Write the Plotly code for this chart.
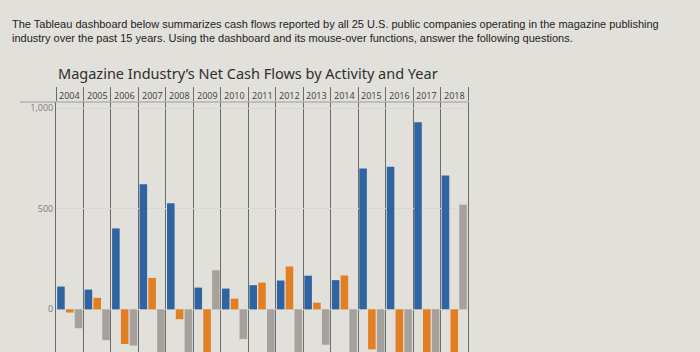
import plotly.graph_objects as go

years = ["2004", "2005", "2006", "2007", "2008", "2009", "2010", "2011",
         "2012", "2013", "2014", "2015", "2016", "2017", "2018"]
operating = [113, 98, 402, 622, 527, 108, 103, 120, 143, 167, 145, 700, 708, 930, 665]
investing = [-16, 57, -172, 156, -49, -280, 53, 133, 213, 33, 168, -199, -310, -350, -300]
financing = [-94, -153, -180, -290, -420, 194, -148, -300, -330, -176, -220, -420, -400, -560, 520]

tick_vals = [0, 500, 1000]
tick_text = ["0", "500", "1,000"]

BG = "#e2e0da"
LINE = "#6b6b6b"

fig = go.Figure()
fig.add_trace(go.Bar(x=years, y=operating, name="Operating", marker_color="#2f63a2", marker_line_width=0))
fig.add_trace(go.Bar(x=years, y=investing, name="Investing", marker_color="#e27f22", marker_line_width=0))
fig.add_trace(go.Bar(x=years, y=financing, name="Financing", marker_color="#a7a19e", marker_line_width=0))

L, R, T, B = 56, 232, 102, 0
plot_w = 700 - L - R

fig.update_layout(
    width=700, height=352,
    margin=dict(l=L, r=R, t=T, b=B),
    paper_bgcolor=BG, plot_bgcolor=BG,
    barmode="group", bargap=0.04, bargroupgap=0.14,
    showlegend=False,
    title=dict(
        text="The Tableau dashboard below summarizes cash flows reported by all 25 U.S. public companies operating in the magazine publishing<br>industry over the past 15 years. Using the dashboard and its mouse-over functions, answer the following questions.",
        xref="container", yref="container", x=12 / 700, y=1 - 28 / 352,
        xanchor="left", yanchor="middle",
        font=dict(family="Liberation Sans", size=11, color="#222222"),
    ),
    xaxis=dict(
        type="category", categoryorder="array", categoryarray=years,
        range=[-0.5, len(years) - 0.5], autorange=False,
        side="top", tickson="boundaries",
        ticks="outside", ticklen=14, tickcolor=LINE, tickwidth=1,
        showticklabels=False, showgrid=True, gridcolor=LINE, gridwidth=1,
        showline=False, zeroline=False, fixedrange=True,
    ),
    yaxis=dict(
        range=[-212, 1030], tickvals=tick_vals, ticktext=tick_text,
        tickfont=dict(family="Open Sans", size=9, color="#7a7a7a"),
        showgrid=True, gridcolor="#d9d7d1", zeroline=False,
        showline=True, mirror=True, linecolor=LINE, linewidth=1,
        ticks="", fixedrange=True,
    ),
    font=dict(family="Open Sans"),
)

# header year labels
for i, yr in enumerate(years):
    fig.add_annotation(x=i, xref="x", y=1, yref="paper", yshift=7,
                       text=yr, showarrow=False, yanchor="middle",
                       font=dict(family="Open Sans", size=9, color="#3a3a3a"))

# chart title
fig.add_annotation(x=0, xref="paper", y=1, yref="paper", yshift=29,
                   xanchor="left", yanchor="middle", showarrow=False,
                   text="Magazine Industry\u2019s Net Cash Flows by Activity and Year",
                   font=dict(family="Noto Sans", size=14.5, color="#2e2e2e"))

# header bottom rule
fig.add_shape(type="line", xref="paper", yref="paper",
              x0=-(L - 20) / plot_w, x1=1, y0=1, y1=1,
              line=dict(color="#9a9a9a", width=1))

fig.write_html("out.html")
